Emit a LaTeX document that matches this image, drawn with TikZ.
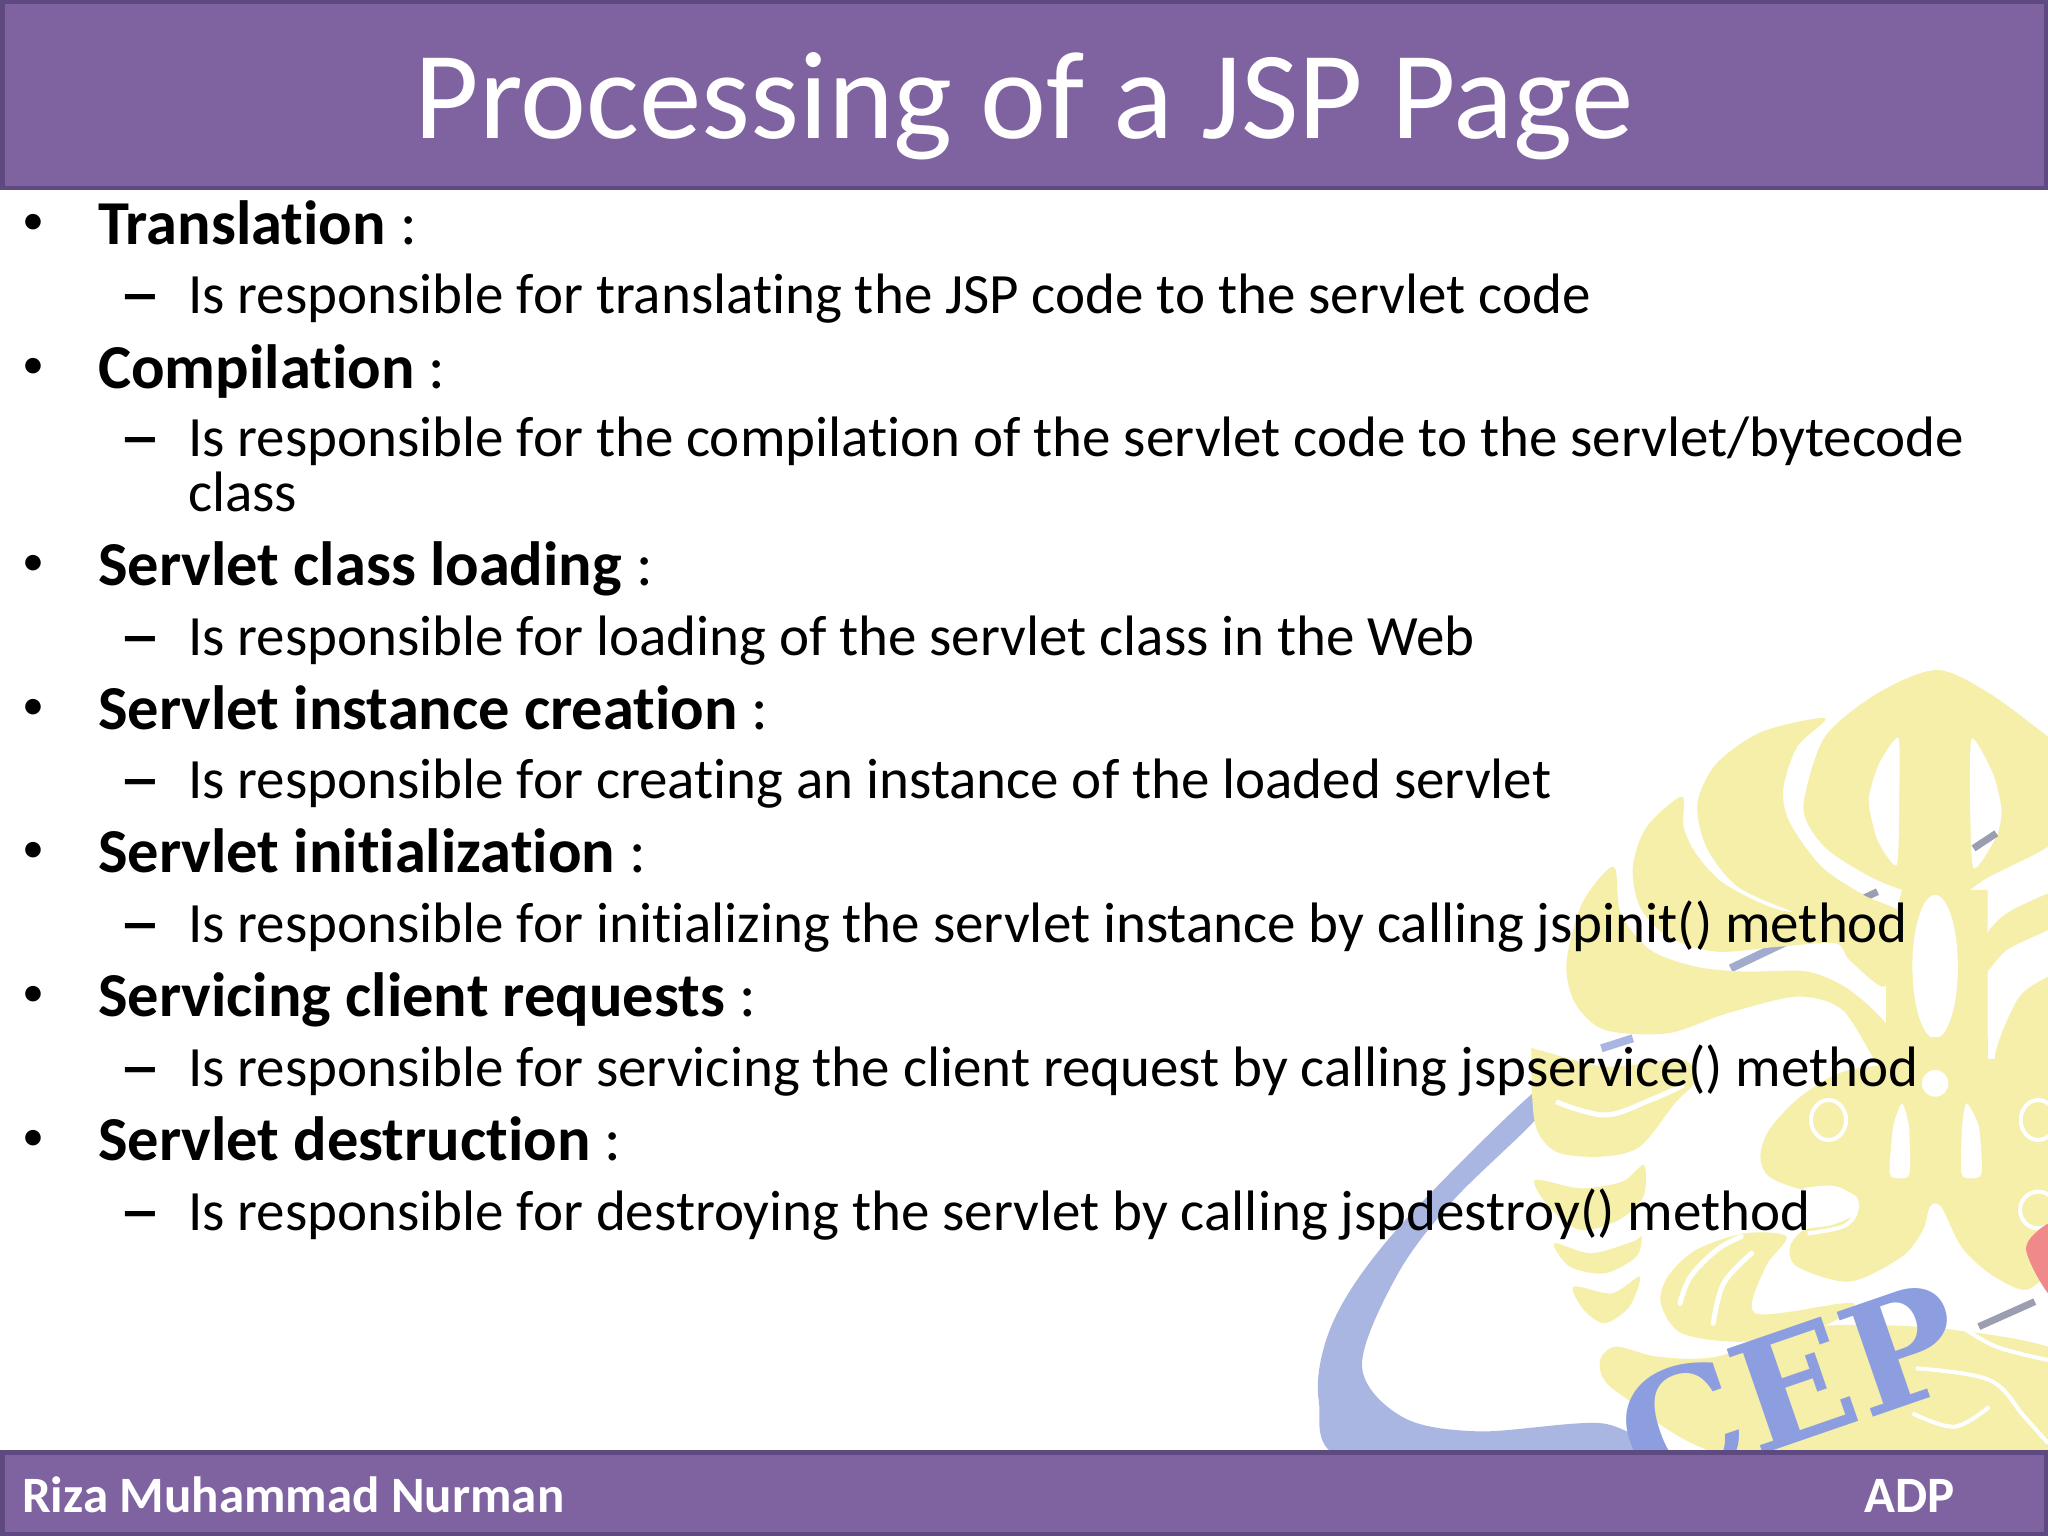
\documentclass[tikz,border=0pt]{standalone}
\usepackage{fontspec}
\setmainfont[Ligatures={NoCommon}]{Carlito}
\newfontfamily\logofont{DejaVu Serif}
\definecolor{barfill}{HTML}{7F63A1}
\definecolor{barline}{HTML}{5E4A80}
\definecolor{ylw}{HTML}{F5EFAA}
\definecolor{blu}{HTML}{A9B6E2}
\definecolor{cep}{HTML}{8C9EE0}
\definecolor{greyline}{HTML}{9A9EB0}
\definecolor{redmark}{HTML}{F08A8A}
\tikzset{
  head/.style={anchor=base west,inner sep=0pt,font=\fontsize{62.5}{62.5}\selectfont\bfseries},
  sub/.style={anchor=base west,inner sep=0pt,font=\fontsize{57}{57}\selectfont},
  dashmark/.style={anchor=base west,inner sep=0pt,font=\fontsize{84}{84}\selectfont},
  bulletmark/.style={anchor=base west,inner sep=0pt,font=\fontsize{44}{44}\selectfont},
  bar/.style={fill=barfill,draw=barline,line width=4.5pt},
  lobe/.style={fill=ylw,draw=none},
  hole/.style={fill=white,draw=none},
}
\newcommand{\hd}[3]{\node[head] (#3) at (98,#2) {#1 \mdseries:};
  \node[bulletmark] (#3b) at (22,#2-10) {•};}
\newcommand{\sbl}[3]{\node[sub] (#3) at (188,#2-2) {#1};
  \node[dashmark] (#3d) at (119,#2+5) {–};}
\begin{document}
\begin{tikzpicture}[x=1pt,y=-1pt]
\useasboundingbox (0,0) rectangle (2048,1536);
\fill[white] (0,0) rectangle (2048,1536);
\begin{scope}
\clip (0,0) rectangle (2048,1536);
% ring
\begin{scope}[shift={(1250,640)},x=0.5089pt,y=-0.5714pt]
 \fill[blu] plot[smooth cycle,tension=0.55] coordinates {(135,1330) (165,1190) (290,1030) (560,790) (570,830) (400,980) (290,1110) (220,1270) (300,1360) (450,1385) (700,1372) (760,1440) (210,1440)};
\end{scope}
% upper part of the emblem
\begin{scope}[shift={(1500,650)},x=0.3495pt,y=-0.3333pt]
 \draw[blu!80!gray,line width=8pt] (660,955) -- (900,835);
 \draw[greyline,line width=7pt] (1010,760) -- (1080,725);
 \draw[blu,line width=8pt] (290,1195) -- (380,1165);
 % lobe C
 \fill[lobe] plot[smooth cycle,tension=0.5] coordinates {(325,650) (235,760) (190,940) (215,1060) (300,1140) (480,1150) (650,1090) (850,1040) (980,1080) (1080,1240) (1130,1240) (1110,1130) (1000,1020) (880,965) (700,965) (560,950) (430,900) (345,790)};
 % lobe B
 \fill[lobe] plot[smooth cycle,tension=0.5] coordinates {(520,440) (420,530) (380,650) (400,770) (480,860) (620,905) (800,890) (960,880) (1000,930) (1100,1010) (1110,870) (1000,800) (800,780) (640,700) (560,610) (525,530)};
 % lobe A
 \fill[lobe] plot[smooth cycle,tension=0.5] coordinates {(930,205) (750,245) (620,340) (565,460) (590,590) (680,710) (850,790) (1000,840) (1110,930) (1160,800) (1040,735) (920,650) (830,520) (810,420) (850,290)};
 % stem
 \fill[lobe] (1150,720) -- (1395,720) -- (1395,1240) -- (1105,1240) -- (1105,900) -- cycle;
 % right bands
 \fill[lobe] plot[smooth cycle,tension=0.5] coordinates {(1390,860) (1450,790) (1568,730) (1640,700) (1640,800) (1568,840) (1450,900) (1385,970)};
 \fill[lobe] plot[smooth cycle,tension=0.5] coordinates {(1420,1250) (1480,1050) (1568,980) (1640,950) (1640,1250)};
 % head
 \fill[lobe] plot[smooth cycle,tension=0.5] coordinates {(870,450) (930,260) (1080,130) (1250,60) (1400,130) (1568,260) (1640,320) (1640,510) (1568,590) (1400,680) (1280,750) (1100,700) (950,610) (885,530)};
 \fill[hole] plot[smooth cycle,tension=0.4] coordinates {(1140,265) (1142,450) (1135,645) (1080,570) (1055,450) (1085,340)};
 \fill[hole] plot[smooth cycle,tension=0.4] coordinates {(1350,265) (1410,370) (1435,480) (1420,560) (1355,655) (1345,450)};
 \fill[hole] (1245,950) ellipse (65 and 215);
 \draw[greyline,line width=7pt] (1355,595) -- (1420,550);
\end{scope}
% lower part of the emblem
\begin{scope}[shift={(1500,1040)},x=0.3495pt,y=-0.3333pt]
 \draw[greyline,line width=7pt] (125,150) -- (170,180);
 \fill[lobe] plot[smooth cycle,tension=0.5] coordinates {(90,40) (100,250) (160,335) (290,350) (400,320) (500,190) (560,120) (520,60) (300,80) (110,30)};
 \draw[white,line width=5pt] plot[smooth,tension=0.6] coordinates {(160,185) (300,225) (430,180) (525,135)};
 \fill[lobe] plot[smooth cycle,tension=0.5] coordinates {(100,420) (230,445) (350,425) (412,375) (410,470) (340,540) (230,570) (140,500)};
 \fill[lobe] plot[smooth cycle,tension=0.5] coordinates {(155,610) (260,640) (380,605) (405,590) (390,650) (300,700) (200,680)};
 \fill[lobe] plot[smooth cycle,tension=0.5] coordinates {(210,740) (320,760) (400,710) (370,800) (300,850) (240,810)};
 % base under the letters
 \fill[lobe] plot[smooth cycle,tension=0.5] coordinates {(285,970) (330,920) (450,950) (620,950) (900,860) (1300,870) (1640,960) (1640,1260) (700,1260) (340,1060)};
 % fan
 \fill[lobe] plot[smooth cycle,tension=0.5] coordinates {(460,790) (480,710) (560,630) (700,580) (820,590) (760,680) (730,820) (980,790) (1010,800) (920,860) (700,905) (520,880)};
 % body
 \fill[lobe] plot[smooth cycle,tension=0.5] coordinates {(745,350) (770,270) (860,170) (1000,90) (1300,60) (1568,60) (1640,100) (1640,600) (1568,700) (1500,750) (1400,700) (1320,620) (1262,500) (1230,500) (1210,570) (1150,650) (1000,725) (850,680) (830,620) (870,570) (950,555) (1020,520) (1020,470) (960,445) (870,450) (770,410)};
 \fill[lobe] (1105,-10) -- (1395,-10) -- (1395,200) -- (1105,200) -- cycle;
 % white details
 \fill[hole] (1245,130) circle (38 and 40);
 \fill[hole] plot[smooth cycle,tension=0.4] coordinates {(1150,190) (1170,260) (1172,400) (1145,415) (1115,400) (1125,260)};
 \fill[hole] plot[smooth cycle,tension=0.4] coordinates {(1335,190) (1370,260) (1378,400) (1345,415) (1320,400) (1322,260)};
 \draw[white,line width=4pt] (940,240) ellipse (50 and 60);
 \draw[white,line width=4pt] (1540,240) ellipse (50 and 60);
 \draw[white,line width=4pt] (1540,510) ellipse (52 and 55);
 \draw[white,line width=4pt] plot[smooth,tension=0.6] coordinates {(870,450) (960,445) (1020,490) (990,555) (880,580)};
 \draw[white,line width=5pt,line cap=round] plot[smooth,tension=0.6] coordinates {(515,790) (545,710) (620,630) (690,590)};
 \draw[white,line width=5pt,line cap=round] plot[smooth,tension=0.6] coordinates {(610,850) (640,730) (720,640)};
 \draw[white,line width=4pt] plot[smooth,tension=0.6] coordinates {(1320,860) (1420,920) (1568,960) (1640,970)};
 \draw[white,line width=4pt] plot[smooth,tension=0.6] coordinates {(1190,985) (1400,1020) (1500,1130) (1568,1210)};
 \draw[white,line width=4pt] plot[smooth,tension=0.6] coordinates {(1180,1120) (1300,1160) (1400,1100)};
 \fill[redmark] plot[smooth cycle,tension=0.5] coordinates {(1505,625) (1568,550) (1640,540) (1640,800) (1568,760)};
 \draw[greyline,line width=7pt] (1370,860) -- (1530,785);
 \node[inner sep=0pt,rotate=19,text=cep,font=\logofont\fontsize{152}{152}\selectfont\bfseries] (logo) at (830,1040) {CEP};
\end{scope}
\end{scope}
% bars
\node[bar,minimum width=2043.5pt,minimum height=185.5pt,inner sep=0pt] (topbar) at (1024,95) {};
\node[bar,minimum width=2043.5pt,minimum height=81.5pt,inner sep=0pt] (footbar) at (1024,1493) {};
\node[anchor=base,inner sep=0pt,text=white,font=\fontsize{125}{125}\selectfont] (title) at (1024,139) {Processing of a JSP Page};
\node[anchor=base west,inner sep=0pt,text=white,font=\fontsize{51}{51}\selectfont\bfseries] (auth) at (22,1512) {Riza Muhammad Nurman};
\node[anchor=base west,inner sep=0pt,text=white,font=\fontsize{51}{51}\selectfont\bfseries] (adp) at (1864,1512) {ADP};
% body text
\hd{Translation}{244}{a}
\sbl{Is responsible for translating the JSP code to the servlet code}{315}{as}
\hd{Compilation}{388}{b}
\sbl{Is responsible for the compilation of the servlet code to the servlet/bytecode}{458}{bs}
\node[sub] (bs2) at (188,511) {class};
\hd{Servlet class loading}{585}{c}
\sbl{Is responsible for loading of the servlet class in the Web}{657}{cs}
\hd{Servlet instance creation}{729}{d}
\sbl{Is responsible for creating an instance of the loaded servlet}{800}{ds}
\hd{Servlet initialization}{872}{e}
\sbl{Is responsible for initializing the servlet instance by calling jspinit() method}{944}{es}
\hd{Servicing client requests}{1016}{f}
\sbl{Is responsible for servicing the client request by calling jspservice() method}{1088}{fs}
\hd{Servlet destruction}{1160}{g}
\sbl{Is responsible for destroying the servlet by calling jspdestroy() method}{1232}{gs}
\end{tikzpicture}
\end{document}
